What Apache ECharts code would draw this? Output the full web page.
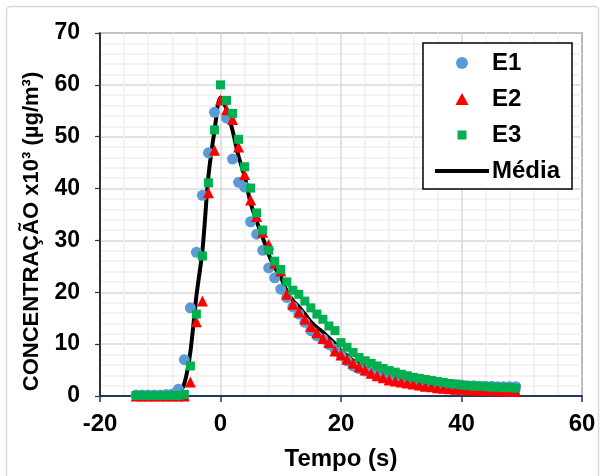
<!DOCTYPE html>
<html>
<head>
<meta charset="utf-8">
<script src="https://cdn.jsdelivr.net/npm/echarts@6/dist/echarts.min.js"></script>
<style>
html,body{margin:0;padding:0;background:#fff;}
#chart{width:606px;height:476px;}
</style>
</head>
<body>
<div id="chart"></div>
<script>
// Time (s)
const times = [-14,-13,-12,-11,-10,-9,-8,-7,-6,-5,-4,-3,-2,-1,0,1,2,3,4,5,6,7,8,9,10,11,12,13,14,15,16,17,18,19,20,21,22,23,24,25,26,27,28,29,30,31,32,33,34,35,36,37,38,39,40,41,42,43,44,45,46,47,48,49];
// E1 (circles)
const e1 = [0.2,0.2,0.2,0.2,0.2,0.3,0.4,1.3,7.0,17.0,27.7,38.7,46.9,54.7,null,53.6,45.7,41.2,40.3,33.6,31.2,28.1,24.7,22.8,20.6,19.0,17.2,15.8,14.2,12.6,11.6,11.0,9.9,9.0,7.9,6.8,5.8,5.3,4.8,4.4,4.0,3.7,3.4,3.2,3.0,2.8,2.7,2.6,2.5,2.4,2.3,2.2,2.2,2.1,2.1,2.0,2.0,1.9,1.9,1.9,1.8,1.8,1.8,1.8];
// E2 (triangles)
const e2 = [0,0,0,0,0,0,0,0,0,2.7,14.3,18.3,39.2,47.4,57.1,55.2,53.3,48.0,42.7,37.8,34.6,31.6,29.2,25.6,24.1,19.6,17.7,16.2,14.8,13.4,12.2,11.1,10.3,8.7,7.9,7.1,6.3,5.6,5.0,4.4,3.9,3.5,3.1,2.9,2.7,2.5,2.3,2.1,1.9,1.8,1.6,1.5,1.4,1.3,1.3,1.2,1.2,1.1,1.1,1.0,1.0,1.0,0.9,0.9];
// E3 (squares)
const e3 = [0.1,0.1,0.1,0.1,0.1,0.1,0.1,0.1,0.3,5.8,15.8,27.0,41.1,51.3,60.0,57.0,54.5,49.5,44.2,40.1,35.3,32.0,28.1,26.0,24.4,22.0,20.4,19.6,18.3,17.0,15.8,14.8,13.5,12.6,10.3,9.4,8.4,7.4,6.8,6.3,5.8,5.3,4.9,4.6,4.2,3.9,3.6,3.4,3.2,3.0,2.8,2.6,2.4,2.3,2.1,2.0,1.9,1.9,1.8,1.7,1.7,1.6,1.6,1.5];
// Média (line)
const media = [0.1,0.1,0.1,0.1,0.1,0.1,0.2,0.5,2.4,8.5,19.3,28.0,42.4,51.1,57.5,55.3,51.2,46.2,42.4,37.2,33.7,30.6,27.3,24.8,23.0,20.2,18.4,17.2,15.8,14.3,13.2,12.3,11.2,10.1,8.7,7.8,6.8,6.1,5.5,5.0,4.6,4.2,3.8,3.6,3.3,3.1,2.9,2.7,2.5,2.4,2.2,2.1,2.0,1.9,1.8,1.7,1.7,1.6,1.6,1.5,1.5,1.5,1.4,1.4];
// Axis ticks
const xTicks = [-20, 0, 20, 40, 60];
const yTicks = [0, 10, 20, 30, 40, 50, 60, 70];
const seriesNames = ['E1', 'E2', 'E3', 'Média'];

function pairs(arr) {
  const out = [];
  times.forEach((t, i) => { if (arr[i] !== null) out.push([t, arr[i]]); });
  return out;
}

const FONT = 'Liberation Sans, Arial, sans-serif';
const chart = echarts.init(document.getElementById('chart'), null, {renderer: 'canvas'});
chart.setOption({
  animation: false,
  backgroundColor: '#fff',
  textStyle: {fontFamily: FONT},
  graphic: [{
    type: 'rect', z: -10,
    shape: {x: 6.5, y: 6.5, width: 592, height: 480, r: 4},
    style: {fill: 'none', stroke: '#d9d9d9', lineWidth: 1.5}
  }],
  grid: {left: 100, right: 24, top: 33, bottom: 79, show: true, borderColor: '#000', borderWidth: 1.2, backgroundColor: 'transparent'},
  legend: {
    orient: 'vertical', left: 423, top: 43,
    padding: [8, 12, 6, 12],
    itemGap: 12, itemWidth: 54, itemHeight: 12,
    symbolKeepAspect: true,
    backgroundColor: '#fff', borderColor: '#000', borderWidth: 1.5,
    textStyle: {fontSize: 24, fontWeight: 'bold', color: '#000', fontFamily: FONT, padding: [0,0,0,-2]},
    data: [
      {name: seriesNames[0], icon: 'circle'},
      {name: seriesNames[1], icon: 'path://M6,0 L12,11 L0,11 Z'},
      {name: seriesNames[2], icon: 'path://M1.5,1.5 L10.5,1.5 L10.5,10.5 L1.5,10.5 Z M0,0 L0,0 M12,12 L12,12'},
      {name: seriesNames[3], icon: 'path://M0,0 L54,0 L54,4 L0,4 Z'}
    ]
  },
  xAxis: {
    type: 'value', min: xTicks[0], max: xTicks[xTicks.length-1], interval: 20,
    name: 'Tempo (s)', nameLocation: 'middle', nameGap: 51,
    nameTextStyle: {fontSize: 24, fontWeight: 'bold', color: '#000', fontFamily: FONT},
    axisLine: {onZero: false, lineStyle: {color: '#1F3864', width: 2}},
    axisTick: {show: true, length: 6, lineStyle: {color: '#1F3864', width: 1.5}},
    axisLabel: {fontSize: 24, fontWeight: 'bold', color: '#000', margin: 16, fontFamily: FONT},
    splitLine: {show: true, lineStyle: {color: '#d9d9d9', width: 1.5}},
    minorTick: {show: false, splitNumber: 5},
    minorSplitLine: {show: true, lineStyle: {color: '#efefef', width: 1.5}}
  },
  yAxis: {
    type: 'value', min: yTicks[0], max: yTicks[yTicks.length-1], interval: 10,
    name: 'CONCENTRAÇÃO x10³ (µg/m³)', nameLocation: 'middle', nameGap: 57,
    nameTextStyle: {fontSize: 22, fontWeight: 'bold', color: '#000', fontFamily: FONT, padding: [0, 34, 0, 0]},
    axisLine: {show: true, onZero: false, lineStyle: {color: '#000', width: 1.5}},
    axisTick: {show: true, length: 5, lineStyle: {color: '#333', width: 1.2}},
    axisLabel: {fontSize: 23, fontWeight: 'bold', color: '#000', margin: 20, fontFamily: FONT},
    splitLine: {show: true, lineStyle: {color: '#d9d9d9', width: 1.5}},
    minorTick: {show: false, splitNumber: 5},
    minorSplitLine: {show: true, lineStyle: {color: '#efefef', width: 1.5}}
  },
  series: [
    {name: 'Média', type: 'line', data: pairs(media), symbol: 'none', smooth: 0.3, z: 1,
     lineStyle: {color: '#000', width: 4}, itemStyle: {color: '#000'}},
    {name: 'E1', type: 'scatter', data: pairs(e1), symbol: 'circle', symbolSize: 11, z: 2, symbolKeepAspect: true,
     itemStyle: {color: '#5B9BD5', opacity: 1}},
    {name: 'E2', type: 'scatter', data: pairs(e2), symbol: 'triangle', symbolSize: 11, z: 3, symbolKeepAspect: true,
     itemStyle: {color: '#FF0000', opacity: 1}},
    {name: 'E3', type: 'scatter', data: pairs(e3), symbol: 'rect', symbolSize: 9, z: 4, symbolKeepAspect: true,
     itemStyle: {color: '#00B050', opacity: 1}}
  ]
});
</script>
</body>
</html>
